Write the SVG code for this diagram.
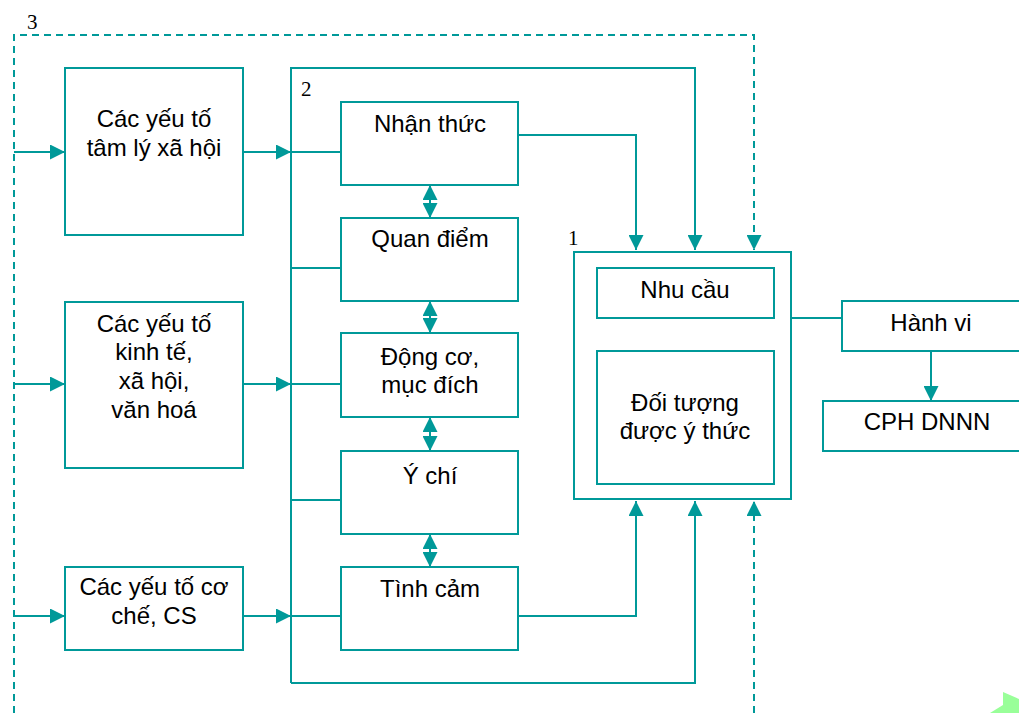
<svg xmlns="http://www.w3.org/2000/svg" width="1019" height="713" viewBox="0 0 1019 713">
<style>
.box{fill:#ffffff;stroke:#009999;stroke-width:2}
.ln{fill:none;stroke:#009999;stroke-width:2}
.ds{fill:none;stroke:#009999;stroke-width:2;stroke-dasharray:7 5}
.t{font-family:"Liberation Sans",Arial,sans-serif;font-size:24px;fill:#000;text-anchor:middle}
.n{font-family:"Liberation Serif","Times New Roman",serif;font-size:21px;fill:#000}
</style>
<defs>
<marker id="ah" markerWidth="15" markerHeight="15" refX="15" refY="7.5" orient="auto-start-reverse" markerUnits="userSpaceOnUse"><path d="M0,0 L15,7.5 L0,15 z" fill="#009999"/></marker>
</defs>
<rect width="1019" height="713" fill="#ffffff"/>
<text class="n" x="27" y="29">3</text>
<text class="n" x="301" y="96">2</text>
<text class="n" x="568" y="245">1</text>
<g id="connectors">
<path class="ds" d="M14,713 V35 H754 V250" marker-end="url(#ah)"/>
<path class="ds" d="M754,713 V501" marker-end="url(#ah)"/>
<path class="ln" d="M291,683 V68 H695 V250" marker-end="url(#ah)"/>
<path class="ln" d="M291,683 H695 V501" marker-end="url(#ah)"/>
<path class="ln" d="M518,135 H636 V250" marker-end="url(#ah)"/>
<path class="ln" d="M518,616 H636 V501" marker-end="url(#ah)"/>
<path class="ln" d="M14,152 H65" marker-end="url(#ah)"/>
<path class="ln" d="M14,384 H65" marker-end="url(#ah)"/>
<path class="ln" d="M14,616 H65" marker-end="url(#ah)"/>
<path class="ln" d="M243,152 H291" marker-end="url(#ah)"/>
<path class="ln" d="M243,384 H291" marker-end="url(#ah)"/>
<path class="ln" d="M243,616 H291" marker-end="url(#ah)"/>
<path class="ln" d="M291,152 H341 M291,268 H341 M291,384 H341 M291,500 H341 M291,616 H341"/>
<path class="ln" d="M430,185 V218" marker-start="url(#ah)" marker-end="url(#ah)"/>
<path class="ln" d="M430,301 V333" marker-start="url(#ah)" marker-end="url(#ah)"/>
<path class="ln" d="M430,417 V451" marker-start="url(#ah)" marker-end="url(#ah)"/>
<path class="ln" d="M430,534 V567" marker-start="url(#ah)" marker-end="url(#ah)"/>
<path class="ln" d="M685,318 V351" marker-start="url(#ah)" marker-end="url(#ah)"/>
<path class="ln" d="M791,318 H842"/>
<path class="ln" d="M931,351 V401" marker-end="url(#ah)"/>
</g>
<g id="n-tamly"><rect class="box" x="65" y="68" width="178" height="167"/><text class="t" x="154" y="127">Các yếu tố</text><text class="t" x="154" y="156">tâm lý xã hội</text></g>
<g id="n-kinhte"><rect class="box" x="65" y="302" width="178" height="166"/><text class="t" x="154" y="332">Các yếu tố</text><text class="t" x="154" y="360">kinh tế,</text><text class="t" x="154" y="389">xã hội,</text><text class="t" x="154" y="418">văn hoá</text></g>
<g id="n-coche"><rect class="box" x="65" y="567" width="178" height="83"/><text class="t" x="154" y="595">Các yếu tố cơ</text><text class="t" x="154" y="624">chế, CS</text></g>
<g id="n-nhanthuc"><rect class="box" x="341" y="102" width="177" height="83"/><text class="t" x="430" y="132">Nhận thức</text></g>
<g id="n-quandiem"><rect class="box" x="341" y="218" width="177" height="83"/><text class="t" x="430" y="247">Quan điểm</text></g>
<g id="n-dongco"><rect class="box" x="341" y="333" width="177" height="84"/><text class="t" x="430" y="365">Động cơ,</text><text class="t" x="430" y="393">mục đích</text></g>
<g id="n-ychi"><rect class="box" x="341" y="451" width="177" height="83"/><text class="t" x="430" y="484">Ý chí</text></g>
<g id="n-tinhcam"><rect class="box" x="341" y="567" width="177" height="83"/><text class="t" x="430" y="597">Tình cảm</text></g>
<g id="n-box1"><rect class="box" x="574" y="252" width="217" height="247"/></g>
<g id="n-nhucau"><rect class="box" x="597" y="268" width="177" height="50"/><text class="t" x="685" y="298">Nhu cầu</text></g>
<g id="n-doituong"><rect class="box" x="597" y="351" width="177" height="133"/><text class="t" x="685" y="411">Đối tượng</text><text class="t" x="685" y="439">được ý thức</text></g>
<g id="n-hanhvi"><rect class="box" x="842" y="301" width="190" height="50"/><text class="t" x="931" y="331">Hành vi</text></g>
<g id="n-cph"><rect class="box" x="823" y="401" width="210" height="50"/><text class="t" x="927" y="430">CPH DNNN</text></g>
<polygon points="1003,692 1019,699 1019,713 990,713 1003,705" fill="#99ff99"/>
</svg>
